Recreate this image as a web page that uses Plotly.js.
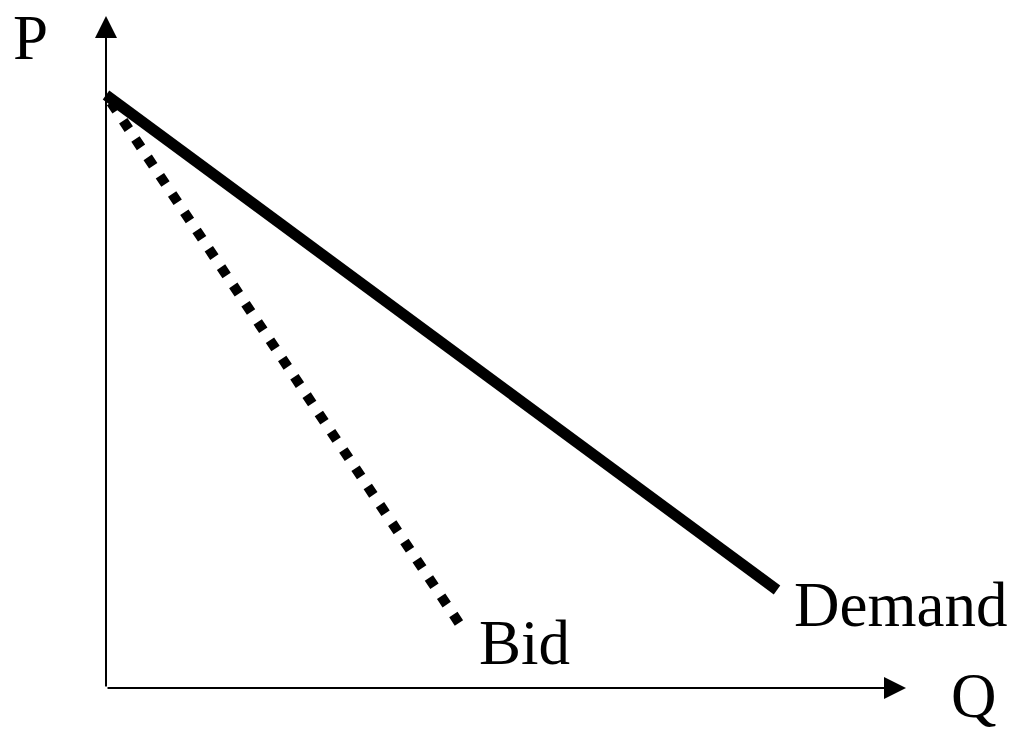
<!DOCTYPE html>
<html>
<head>
<meta charset="utf-8">
<script src="https://cdn.plot.ly/plotly-3.0.1.min.js"></script>
<style>html,body{margin:0;padding:0;background:#fff;}#chart{width:1016px;height:735px;}</style>
</head>
<body>
<div id="chart"></div>
<script>
// Quantity / price values (abstract units)
var demandQ = [0, 67.1];
var demandP = [59.3, 9.8];
var bidQ = [0.5, 35.5];
var bidP = [58.55, 6.2];
var axisMaxQ = 80;
var axisMaxP = 67.2;
var labels = {demand: "Demand", bid: "Bid", p: "P", q: "Q"};

var font = {family: "Liberation Serif, Times New Roman, serif", size: 63, color: "#000"};

var traces = [
  {x: demandQ, y: demandP, mode: "lines", line: {color: "#000", width: 11}, hoverinfo: "skip", showlegend: false},
  {x: bidQ, y: bidP, mode: "lines", line: {color: "#000", width: 10, dash: "10px,12px"}, hoverinfo: "skip", showlegend: false}
];

var layout = {
  width: 1016, height: 735,
  margin: {l: 0, r: 0, t: 0, b: 0},
  paper_bgcolor: "#fff", plot_bgcolor: "#fff",
  showlegend: false,
  xaxis: {range: [-10.6, 91], visible: false, fixedrange: true},
  yaxis: {range: [-4.7, 68.8], visible: false, fixedrange: true},
  annotations: [
    {x: 0, y: axisMaxP, ax: 0, ay: 0, xref: "x", yref: "y", axref: "x", ayref: "y", text: "", showarrow: true, arrowhead: 2, arrowsize: 2.2, arrowwidth: 2, arrowcolor: "#000"},
    {x: axisMaxQ, y: 0, ax: 0, ay: 0, xref: "x", yref: "y", axref: "x", ayref: "y", text: "", showarrow: true, arrowhead: 2, arrowsize: 2.2, arrowwidth: 2, arrowcolor: "#000"},
    {x: -9.5, y: 65.0, xref: "x", yref: "y", text: labels.p, showarrow: false, xanchor: "left", yanchor: "middle", font: font},
    {x: 84.3, y: -0.8, xref: "x", yref: "y", text: labels.q, showarrow: false, xanchor: "left", yanchor: "middle", font: font},
    {x: 68.6, y: 8.3, xref: "x", yref: "y", text: labels.demand, showarrow: false, xanchor: "left", yanchor: "middle", font: font},
    {x: 37.1, y: 4.5, xref: "x", yref: "y", text: labels.bid, showarrow: false, xanchor: "left", yanchor: "middle", font: font}
  ]
};

Plotly.newPlot("chart", traces, layout, {staticPlot: true, displayModeBar: false});
</script>
</body>
</html>
